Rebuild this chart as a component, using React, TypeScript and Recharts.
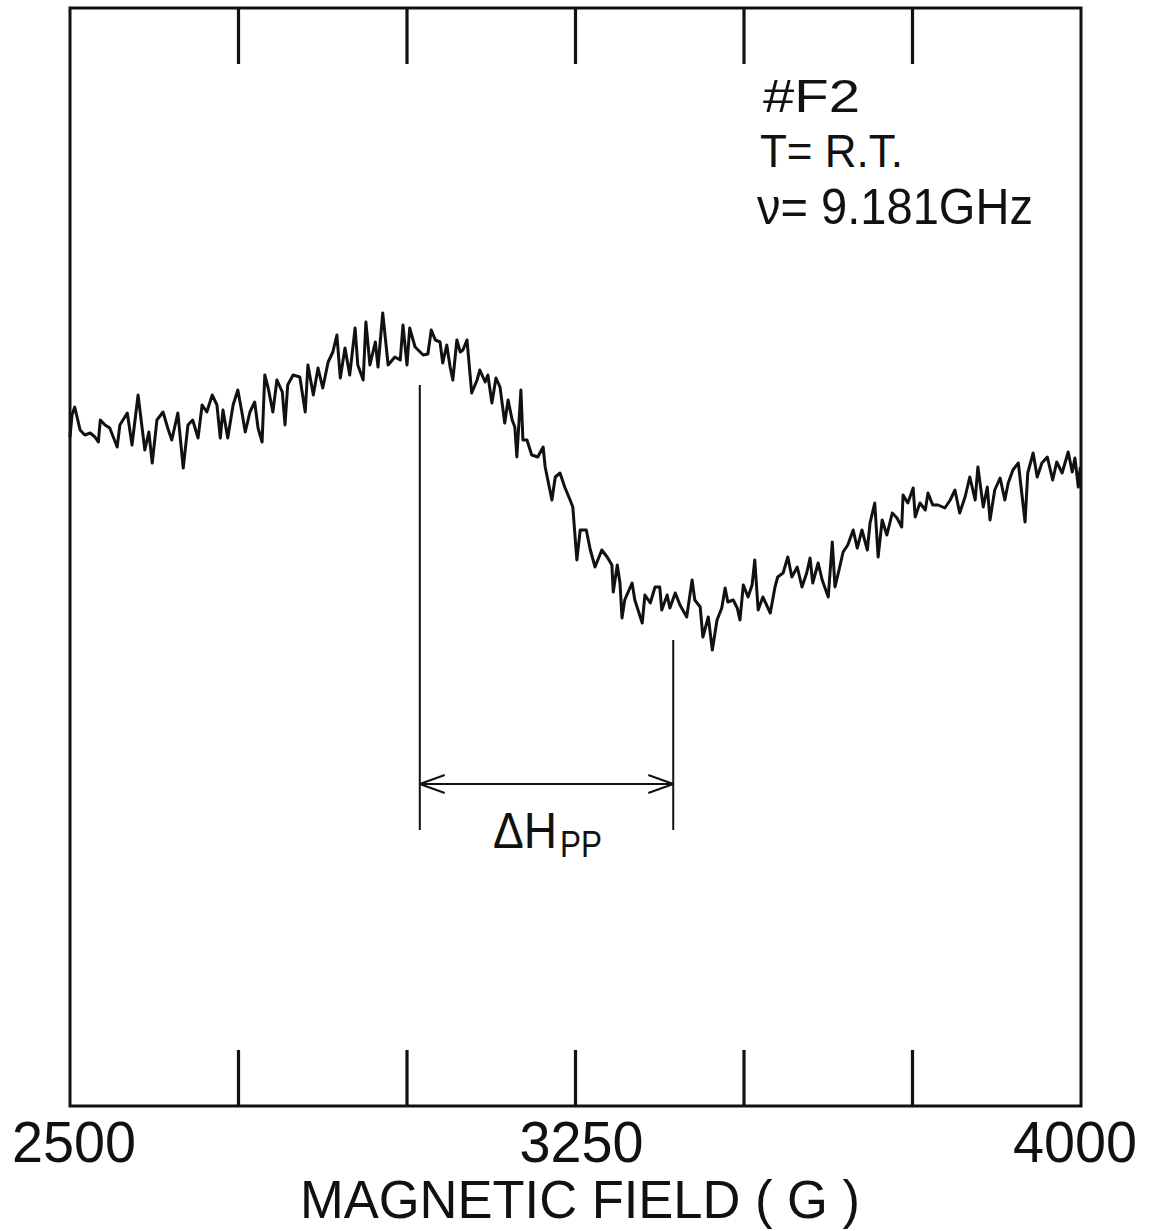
import { LineChart, Line, XAxis, YAxis, ReferenceLine, ReferenceArea } from "recharts";

// EPR derivative trace
const field = [
  2500, 2503, 2507, 2515, 2522, 2530, 2537, 2542, 2545, 2552, 2559, 2570, 2574, 2585, 2592, 2601,
  2611, 2617, 2622, 2629, 2638, 2645, 2651, 2660, 2668, 2675, 2682, 2690, 2696, 2703, 2711, 2718,
  2723, 2727, 2734, 2742, 2749, 2755, 2760, 2767, 2774, 2779, 2785, 2789, 2794, 2801, 2807, 2815,
  2819, 2823, 2831, 2841, 2849, 2853, 2861, 2868, 2875, 2883, 2890, 2896, 2901, 2908, 2915, 2923,
  2927, 2935, 2939, 2945, 2953, 2957, 2964, 2972, 2982, 2990, 2994, 3000, 3004, 3012, 3024, 3031,
  3036, 3042, 3049, 3053, 3059, 3064, 3068, 3074, 3079, 3083, 3089, 3096, 3104, 3108, 3116, 3120,
  3126, 3132, 3138, 3145, 3150, 3156, 3160, 3163, 3169, 3172, 3178, 3185, 3194, 3202, 3205, 3215,
  3220, 3227, 3234, 3242, 3246, 3252, 3257, 3266, 3272, 3279, 3289, 3297, 3304, 3306, 3312, 3316,
  3319, 3323, 3334, 3338, 3349, 3353, 3361, 3368, 3375, 3378, 3386, 3390, 3398, 3405, 3415, 3423,
  3427, 3435, 3439, 3447, 3453, 3460, 3467, 3472, 3476, 3484, 3490, 3494, 3499, 3506, 3512, 3516,
  3521, 3528, 3539, 3546, 3550, 3558, 3565, 3571, 3579, 3586, 3593, 3598, 3602, 3610, 3616, 3625,
  3631, 3635, 3642, 3647, 3654, 3662, 3668, 3675, 3683, 3687, 3694, 3699, 3705, 3712, 3720, 3727,
  3734, 3736, 3743, 3751, 3754, 3761, 3769, 3773, 3780, 3788, 3798, 3806, 3813, 3820, 3828, 3835,
  3843, 3847, 3855, 3861, 3865, 3872, 3880, 3887, 3892, 3899, 3907, 3917, 3921, 3929, 3935, 3942,
  3950, 3958, 3964, 3972, 3981, 3987, 3991, 3996, 3999,
];

const signal = [
  33, 55, 63, 40, 35, 37, 33, 28, 50, 45, 42, 23, 45, 57, 25, 75,
  20, 38, 7, 50, 58, 42, 30, 57, 2, 45, 50, 32, 65, 58, 75, 65,
  32, 60, 32, 65, 80, 58, 38, 58, 68, 42, 28, 95, 82, 58, 90, 78,
  45, 85, 95, 93, 58, 105, 75, 102, 82, 108, 118, 135, 92, 122, 95, 142,
  105, 90, 148, 105, 128, 103, 157, 105, 113, 110, 145, 105, 142, 123, 115, 116,
  140, 130, 128, 107, 125, 103, 90, 130, 118, 120, 130, 77, 90, 100, 88, 95,
  67, 92, 83, 47, 70, 50, 43, 13, 80, 30, 30, 15, 13, 23, 3, -30,
  -7, -3, -17, -30, -37, -90, -60, -60, -80, -97, -80, -87, -95, -122, -95, -113,
  -148, -130, -113, -130, -153, -125, -133, -117, -117, -140, -125, -138, -123, -135, -147, -110,
  -130, -137, -167, -147, -180, -150, -138, -118, -132, -130, -138, -150, -115, -127, -115, -90,
  -140, -127, -143, -117, -107, -103, -87, -107, -97, -117, -103, -88, -113, -93, -110, -127,
  -72, -117, -97, -82, -75, -60, -78, -60, -80, -53, -33, -87, -50, -65, -43, -48,
  -57, -25, -33, -18, -47, -33, -40, -23, -35, -35, -38, -30, -20, -43, -27, -7,
  -30, 3, -37, -17, -50, -20, -8, -30, -13, 0, 7, -52, -3, 17, -7, 7,
  13, -10, 8, -3, 18, -2, 12, -17, 3,
];

const labelTicks = [2500, 3250, 4000];
const minorTicks = [2750, 3000, 3250, 3500, 3750];

const fieldDomain: [number, number] = [2500, 4000];
const signalDomain: [number, number] = [-636, 462];
const tickLength = 56;

// peak-to-peak width marker
const hppLow = 3019;
const hppHigh = 3395;
const hppLowTop = 85;
const hppHighTop = -170;
const hppBottom = -360;
const hppArrow = -314;
const headLen = 37;
const headSpread = 9;

const data = field.map((f, i) => ({ field: f, signal: signal[i] }));

const FONT = "'Liberation Sans Narrow', 'Liberation Sans', Arial, sans-serif";
const INK = "#111";

function FieldTick({ x, payload }: any) {
  const shift = payload.value === 4000 ? -6 : payload.value === 3250 ? 6 : 4;
  return (
    <text
      x={x + shift}
      y={1162}
      textAnchor="middle"
      fontSize={58}
      fontFamily={FONT}
      fill={INK}
      textLength={124}
      lengthAdjust="spacingAndGlyphs"
    >
      {payload.value}
    </text>
  );
}

export default function App() {
  return (
    <div style={{ position: "relative", width: 1151, height: 1231, background: "#fff" }}>
      <style>{"body{margin:0;background:#fff}"}</style>
      <LineChart
        width={1151}
        height={1231}
        data={data}
        margin={{ top: 8, right: 70, bottom: 85, left: 70 }}
      >
        <XAxis
          dataKey="field"
          type="number"
          domain={fieldDomain}
          ticks={labelTicks}
          axisLine={false}
          tickLine={false}
          height={40}
          tick={<FieldTick />}
          interval={0}
        />
        <YAxis type="number" domain={signalDomain} hide />
        <ReferenceArea
          x1={fieldDomain[0]}
          x2={fieldDomain[1]}
          y1={signalDomain[0]}
          y2={signalDomain[1]}
          fill="none"
          fillOpacity={0}
          stroke={INK}
          strokeWidth={3}
        />
        {minorTicks.map((t) => (
          <ReferenceLine
            key={`b${t}`}
            segment={[
              { x: t, y: signalDomain[0] },
              { x: t, y: signalDomain[0] + tickLength },
            ]}
            stroke={INK}
            strokeWidth={3.2}
          />
        ))}
        {minorTicks.map((t) => (
          <ReferenceLine
            key={`t${t}`}
            segment={[
              { x: t, y: signalDomain[1] },
              { x: t, y: signalDomain[1] - tickLength },
            ]}
            stroke={INK}
            strokeWidth={3.2}
          />
        ))}
        <ReferenceLine
          segment={[
            { x: hppLow, y: hppLowTop },
            { x: hppLow, y: hppBottom },
          ]}
          stroke={INK}
          strokeWidth={2}
        />
        <ReferenceLine
          segment={[
            { x: hppHigh, y: hppHighTop },
            { x: hppHigh, y: hppBottom },
          ]}
          stroke={INK}
          strokeWidth={2}
        />
        <ReferenceLine
          segment={[
            { x: hppLow, y: hppArrow },
            { x: hppHigh, y: hppArrow },
          ]}
          stroke={INK}
          strokeWidth={2}
        />
        {[1, -1].map((s) => (
          <ReferenceLine
            key={`la${s}`}
            segment={[
              { x: hppLow, y: hppArrow },
              { x: hppLow + headLen, y: hppArrow + s * headSpread },
            ]}
            stroke={INK}
            strokeWidth={2}
          />
        ))}
        {[1, -1].map((s) => (
          <ReferenceLine
            key={`ra${s}`}
            segment={[
              { x: hppHigh, y: hppArrow },
              { x: hppHigh - headLen, y: hppArrow + s * headSpread },
            ]}
            stroke={INK}
            strokeWidth={2}
          />
        ))}
        <Line
          type="linear"
          dataKey="signal"
          stroke={INK}
          strokeWidth={3}
          strokeLinejoin="round"
          dot={false}
          isAnimationActive={false}
        />
      </LineChart>
      <svg
        width={1151}
        height={1231}
        style={{ position: "absolute", left: 0, top: 0, pointerEvents: "none" }}
        fontFamily={FONT}
        fill={INK}
      >
        <text x={763} y={112} fontSize={47} textLength={97} lengthAdjust="spacingAndGlyphs">
          #F2
        </text>
        <text x={760} y={167} fontSize={47} textLength={143} lengthAdjust="spacingAndGlyphs">
          T= R.T.
        </text>
        <text x={757} y={224} fontSize={50} textLength={276} lengthAdjust="spacingAndGlyphs">
          ν= 9.181GHz
        </text>
        <text x={493} y={848} fontSize={50} textLength={64} lengthAdjust="spacingAndGlyphs">
          ΔH
        </text>
        <text x={560} y={857} fontSize={36} textLength={42} lengthAdjust="spacingAndGlyphs">
          PP
        </text>
        <text
          x={580}
          y={1218}
          fontSize={54}
          textAnchor="middle"
          textLength={560}
          lengthAdjust="spacingAndGlyphs"
        >
          MAGNETIC FIELD ( G )
        </text>
      </svg>
    </div>
  );
}
